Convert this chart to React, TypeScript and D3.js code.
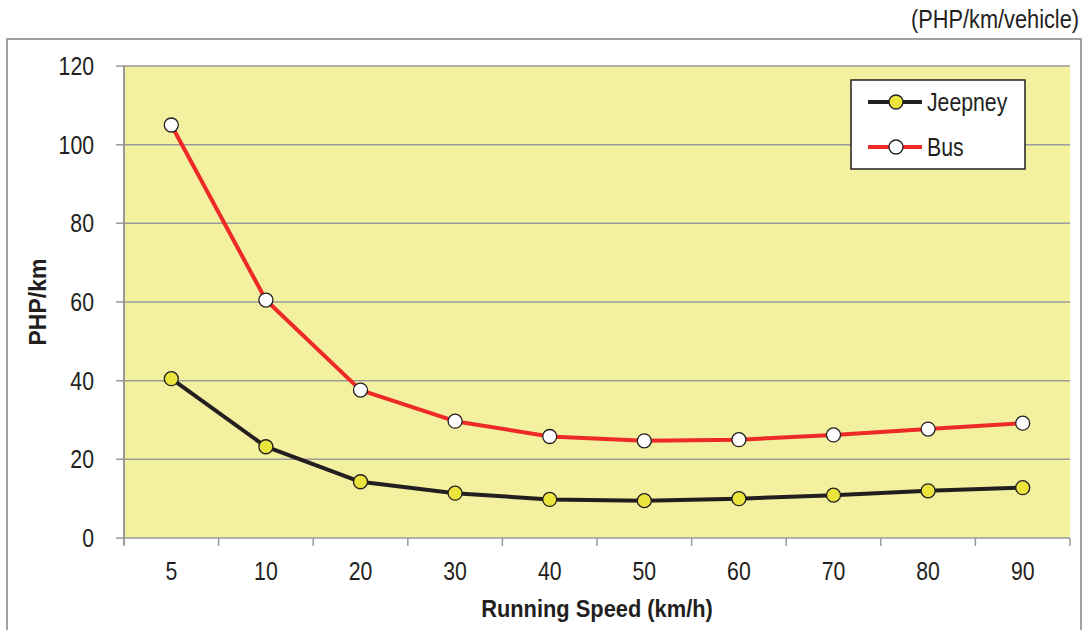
import React from "react";
import * as d3 from "d3";

const speeds = ["5", "10", "20", "30", "40", "50", "60", "70", "80", "90"];
const jeepney = [40.5, 23.2, 14.3, 11.4, 9.8, 9.5, 10.0, 10.9, 12.0, 12.8];
const bus = [105, 60.5, 37.6, 29.7, 25.8, 24.7, 25.0, 26.2, 27.7, 29.2];
const yTicks = [0, 20, 40, 60, 80, 100, 120];

const W = 1085;
const H = 630;
const plot = { left: 124, right: 1070, top: 66, bottom: 538 };
const FONT = "'Liberation Sans', Arial, sans-serif";
const INK = "#231f20";

// Horizontally condensed text, anchored at (x, y)
function NText(props: {
  x: number;
  y: number;
  sx?: number;
  size: number;
  anchor?: "start" | "middle" | "end";
  weight?: string;
  dy?: string;
  children: React.ReactNode;
}) {
  const { x, y, sx = 0.85, size, anchor = "start", weight = "normal", dy, children } = props;
  return (
    <text
      transform={`translate(${x},${y}) scale(${sx},1)`}
      textAnchor={anchor}
      fontSize={size}
      fontWeight={weight}
      dy={dy}
      fill={INK}
    >
      {children}
    </text>
  );
}

export default function App() {
  const x = d3.scaleBand<string>().domain(speeds).range([plot.left, plot.right]);
  const y = d3.scaleLinear().domain([0, 120]).range([plot.bottom, plot.top]);
  const cx = (s: string) => (x(s) as number) + x.bandwidth() / 2;
  const line = d3
    .line<number>()
    .x((_, i) => cx(speeds[i]))
    .y((d) => y(d));

  const series = [
    { name: "Jeepney", values: jeepney, stroke: INK, fill: "#ebe43c" },
    { name: "Bus", values: bus, stroke: "#ee2a27", fill: "#ffffff" },
  ];
  const boundaries = speeds.map((s) => x(s) as number).concat([plot.right]);

  return (
    <svg width={W} height={H} style={{ position: "absolute", left: 0, top: 0 }} fontFamily={FONT}>
      <rect x={0} y={0} width={W} height={H} fill="#fff" />
      <NText x={1079} y={28} size={25} sx={0.87} anchor="end">
        (PHP/km/vehicle)
      </NText>
      {/* outer frame */}
      <rect x={7} y={39} width={1074} height={620} fill="none" stroke="#a0a0a0" strokeWidth={2} />
      {/* plot background */}
      <rect
        x={plot.left}
        y={plot.top}
        width={plot.right - plot.left}
        height={plot.bottom - plot.top}
        fill="#f3f0a0"
      />
      {yTicks.map((t) => (
        <g key={t}>
          <line x1={plot.left - 8} x2={plot.right} y1={y(t)} y2={y(t)} stroke="#9a9a9a" strokeWidth={1.5} />
          <NText x={94} y={y(t)} dy="0.36em" size={25} anchor="end">
            {t}
          </NText>
        </g>
      ))}
      <line x1={plot.left} x2={plot.left} y1={plot.top} y2={plot.bottom + 7} stroke="#9a9a9a" strokeWidth={2} />
      {boundaries.map((b, i) => (
        <line key={i} x1={b} x2={b} y1={plot.bottom} y2={plot.bottom + 8} stroke="#9a9a9a" strokeWidth={1.5} />
      ))}
      {speeds.map((s) => (
        <NText key={s} x={cx(s)} y={580} size={25} anchor="middle">
          {s}
        </NText>
      ))}
      <NText x={597} y={617} size={24} sx={0.91} weight="bold" anchor="middle">
        Running Speed (km/h)
      </NText>
      <text
        transform="translate(38,302) rotate(-90)"
        dy="0.36em"
        textAnchor="middle"
        fontSize={23}
        fontWeight="bold"
        fill={INK}
      >
        PHP/km
      </text>
      {series
        .slice()
        .reverse()
        .map((s) => (
          <g key={s.name}>
            <path d={line(s.values) as string} fill="none" stroke={s.stroke} strokeWidth={4} strokeLinejoin="round" />
            {s.values.map((v, i) => (
              <circle key={i} cx={cx(speeds[i])} cy={y(v)} r={7} fill={s.fill} stroke={INK} strokeWidth={1.3} />
            ))}
          </g>
        ))}
      {/* legend */}
      <rect x={851} y={80} width={174} height={89} fill="#fff" stroke={INK} strokeWidth={1.5} />
      {series.map((s, i) => {
        const ly = 102 + i * 45;
        return (
          <g key={s.name}>
            <line x1={868} x2={922} y1={ly} y2={ly} stroke={s.stroke} strokeWidth={4} />
            <circle cx={896} cy={ly} r={7} fill={s.fill} stroke={INK} strokeWidth={1.3} />
            <NText x={927} y={ly} dy="0.36em" size={25} sx={0.85}>
              {s.name}
            </NText>
          </g>
        );
      })}
    </svg>
  );
}
